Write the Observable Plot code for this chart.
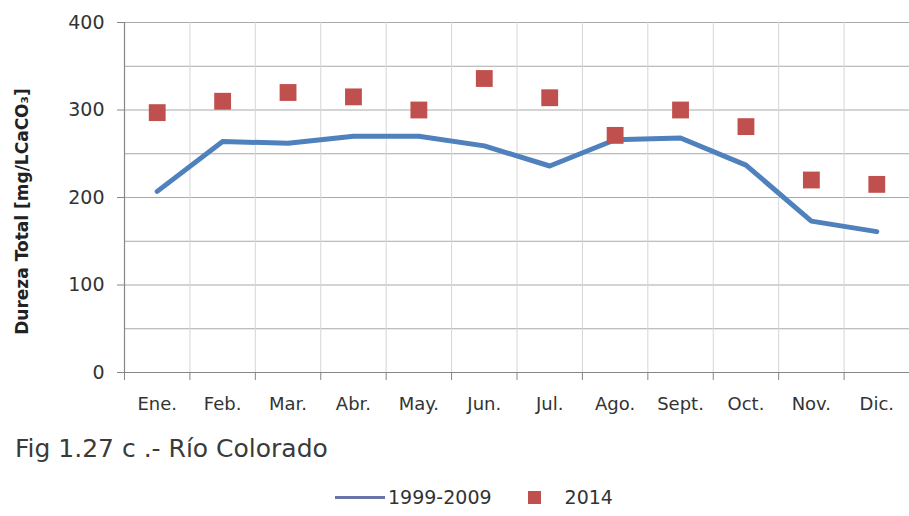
<!DOCTYPE html>
<html>
<head>
<meta charset="utf-8">
<script src="https://cdn.jsdelivr.net/npm/d3@7"></script>
<script src="https://cdn.jsdelivr.net/npm/@observablehq/plot@0.6"></script>
<style>
  html, body { margin: 0; padding: 0; background: #fff; }
  #wrap { position: relative; width: 909px; height: 516px; overflow: hidden; font-family: "DejaVu Sans", sans-serif; color: #333; }
  #caption { position: absolute; left: 15px; top: 436px; font-size: 25px; line-height: 25px; color: #3a3a3a; white-space: nowrap; }
  #legend { position: absolute; left: 335px; top: 485px; height: 24px; font-size: 19px; line-height: 24px; color: #333; white-space: nowrap; display: flex; align-items: center; }
  .lg-line { display: inline-block; width: 50px; height: 0; border-top: 3px solid #6a74a8; margin-right: 3px; }
  .lg-sq { display: inline-block; width: 13px; height: 13px; background: #c0504d; margin-left: 36px; margin-right: 24px; }
</style>
</head>
<body>
<div id="wrap">
  <div id="chart"></div>
  <div id="caption">Fig 1.27 c .- Río Colorado</div>
  <div id="legend"><span class="lg-line"></span><span>1999-2009</span><span class="lg-sq"></span><span>2014</span></div>
</div>
<script>
const months = ["Ene.","Feb.","Mar.","Abr.","May.","Jun.","Jul.","Ago.","Sept.","Oct.","Nov.","Dic."];
const hist = [207, 264, 262, 270, 270, 259, 236, 266, 268, 237, 173, 161];
const y2014 = [297, 310, 320, 315, 300, 336, 314, 271, 300, 281, 220, 215];
const yTicks = [0, 100, 200, 300, 400];
const yGrid = [50, 100, 150, 200, 250, 300, 350, 400];
const yLabel = "Dureza Total [mg/LCaCO₃]";

const idx = months.map((m, i) => i);
const centers = idx.map(i => i + 0.5);
const bounds = d3.range(months.length + 1);

const chart = Plot.plot({
  width: 909,
  height: 425,
  marginTop: 22,
  marginBottom: 53,
  marginLeft: 124,
  marginRight: 0,
  style: { fontFamily: "DejaVu Sans", color: "#333", background: "#fff" },
  x: { type: "linear", domain: [0, months.length] },
  y: { domain: [0, 400] },
  marks: [
    Plot.gridY(yGrid, { stroke: "#a9a9a9", strokeOpacity: 1 }),
    Plot.gridX(bounds.slice(1), { stroke: "#d6d6d6", strokeOpacity: 1 }),
    Plot.ruleX([0], { stroke: "#868686", strokeWidth: 1.2 }),
    Plot.ruleY([0], { stroke: "#868686", strokeWidth: 1.2 }),
    Plot.axisY(yTicks, { tickSize: 7, tickPadding: 13, fontSize: 19, stroke: "#868686", fill: "#333", label: null }),
    Plot.axisX(bounds, { tickSize: 8, tickFormat: () => "", stroke: "#868686", label: null }),
    Plot.axisX(centers, { tickSize: 0, tickPadding: 25, fontSize: 18, fill: "#333", tickFormat: d => months[Math.floor(d)], label: null }),
    Plot.line(idx, { x: i => i + 0.5, y: i => hist[i], stroke: "#4f81bd", strokeWidth: 5, strokeLinejoin: "round" }),
    Plot.dot(idx, { x: i => i + 0.5, y: i => y2014[i], symbol: "square", r: 9.5, fill: "#c0504d", stroke: "none" }),
    Plot.text([yLabel], { frameAnchor: "left", textAnchor: "middle", dx: -102, dy: 14, rotate: -90, fontWeight: "bold", fontSize: 17, fill: "#222" })
  ]
});
document.getElementById("chart").appendChild(chart);
</script>
</body>
</html>
